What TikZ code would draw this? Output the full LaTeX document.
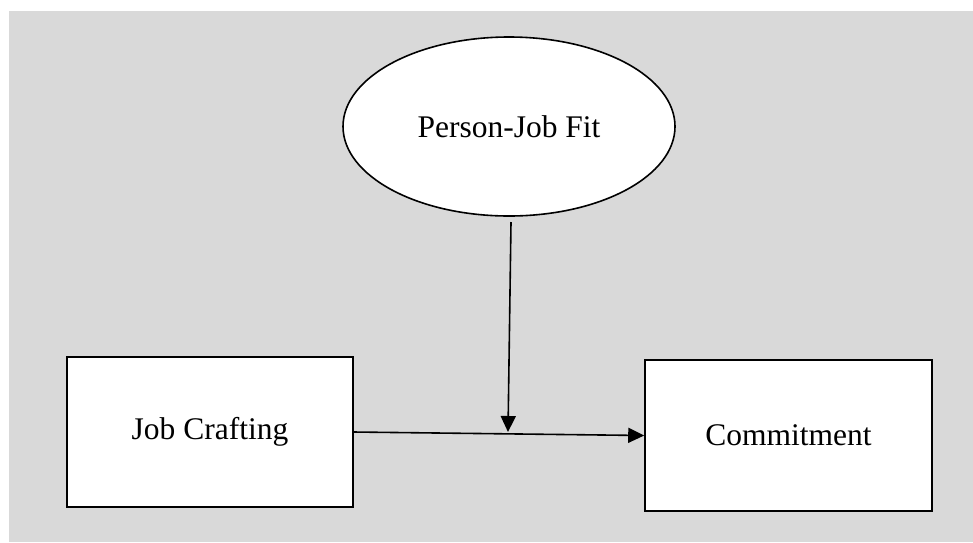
\documentclass[tikz,border=0pt]{standalone}
\usepackage{fontspec}
\setmainfont{Liberation Serif}
\usetikzlibrary{shapes.geometric,arrows.meta}
\definecolor{bggray}{HTML}{D9D9D9}
\begin{document}
\begin{tikzpicture}[x=1pt,y=-1pt,
  box/.style={draw=black,line width=1.6pt,fill=white,inner sep=0pt,font=\fontsize{31.5}{36}\selectfont},
  conn/.style={draw=black,line width=1.6pt,-{Triangle[length=16pt,width=15pt]}}]
\useasboundingbox (0,0) rectangle (973,542);
\fill[bggray] (9,11) rectangle (973,542);
\node[box,minimum width=286pt,minimum height=150pt] (jc) at (210,432) {Job Crafting};
\node[box,minimum width=287pt,minimum height=151pt] (cm) at (788.5,435.5) {Commitment};
\node[box,ellipse,minimum width=332pt,minimum height=179pt] (pj) at (509,126.5) {Person-Job Fit};
\coordinate (vs) at (511,222);
\coordinate (ve) at (508,432);
\draw[conn] (vs) -- (ve);
\draw[conn] (jc.east) -- (cm.west);
\end{tikzpicture}
\end{document}
